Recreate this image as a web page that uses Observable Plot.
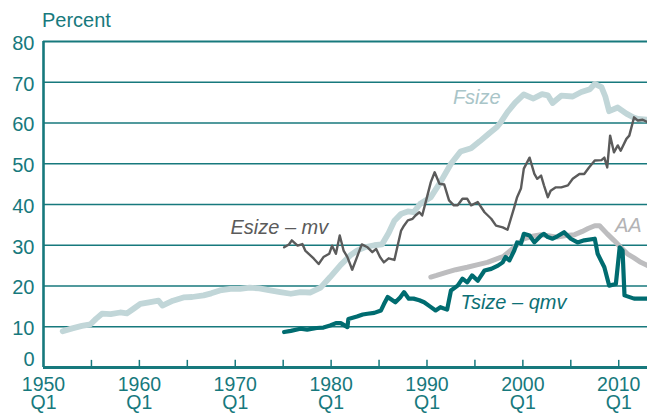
<!DOCTYPE html>
<html><head><meta charset="utf-8">
<script src="https://cdn.jsdelivr.net/npm/d3@7"></script>
<script src="https://cdn.jsdelivr.net/npm/@observablehq/plot@0.6"></script>
<style>
body{margin:0;background:#fff;}
#wrap{position:relative;width:647px;height:413px;font-family:"Liberation Sans",Arial,sans-serif;}
#unit{position:absolute;left:42px;top:10px;font-size:20px;line-height:20px;color:#17797d;}
#wrap svg{position:absolute;left:0;top:0;}
</style></head><body><div id="wrap"><div id="unit">Percent</div></div>
<script>
// ---- data ----
const fsizeYears = [1952.0,1953.0,1954.0,1954.9,1955.5,1956.1,1957.0,1958.0,1958.7,1959.5,1960.1,1961.0,1962.0,1962.4,1963.5,1964.6,1965.5,1966.7,1967.5,1968.4,1969.5,1970.5,1971.5,1972.5,1973.5,1974.7,1975.8,1976.8,1977.8,1978.9,1979.9,1981.0,1982.0,1982.7,1983.5,1984.5,1985.3,1986.0,1986.6,1987.3,1988.0,1988.6,1989.3,1990.4,1991.4,1992.5,1993.5,1994.6,1995.5,1996.5,1997.3,1997.7,1998.4,1999.2,2000.1,2001.1,2002.0,2002.6,2003.1,2004.0,2005.2,2006.1,2007.0,2007.5,2008.2,2008.6,2009.0,2009.9,2010.8,2011.5,2012.0,2013.0];
const fsizeValues = [8.9,9.6,10.2,10.6,12.0,13.2,13.1,13.5,13.3,14.6,15.6,16.0,16.4,15.2,16.4,17.2,17.3,17.7,18.2,18.9,19.3,19.3,19.6,19.4,19.0,18.5,18.1,18.5,18.4,19.6,22.2,25.2,27.5,28.7,29.5,30.0,30.2,33.0,36.0,37.7,38.3,38.1,40.2,41.8,45.5,50.0,53.0,53.8,55.5,57.5,59.0,60.2,62.7,65.0,67.0,66.0,67.1,66.8,64.9,66.7,66.5,67.6,68.3,69.6,68.8,66.5,62.9,63.8,62.3,61.4,61.0,60.8];

const esizeYears = [1975.1,1975.6,1975.9,1976.5,1977.0,1977.3,1978.2,1978.7,1979.2,1979.8,1980.1,1980.5,1980.9,1981.3,1981.7,1982.2,1982.7,1983.2,1983.8,1984.3,1984.7,1985.1,1985.5,1986.0,1986.6,1986.9,1987.3,1987.6,1988.0,1988.5,1988.8,1989.2,1989.5,1990.0,1990.4,1990.8,1991.3,1991.8,1992.3,1992.8,1993.2,1993.7,1994.2,1994.6,1995.3,1996.0,1996.7,1997.2,1997.9,1998.4,1999.1,1999.4,1999.8,2000.1,2000.7,2001.2,2001.5,2001.9,2002.2,2002.6,2002.9,2003.4,2004.0,2004.7,2005.2,2005.9,2006.4,2006.9,2007.5,2008.2,2008.5,2008.8,2009.1,2009.5,2009.9,2010.2,2010.8,2011.1,2011.6,2012.0,2012.5,2013.0];
const esizeValues = [29.5,30.2,31.2,29.9,30.3,28.7,26.7,25.4,27.1,27.9,29.9,27.9,32.4,28.7,27.1,24.0,27.1,30.2,29.5,28.3,29.1,27.1,25.8,26.8,26.4,29.5,33.6,34.8,36.1,36.5,37.3,38.1,37.3,41.8,45.5,47.9,45.1,44.9,41.0,39.8,39.8,41.4,41.4,39.8,40.6,38.1,36.5,34.8,34.4,33.8,39.3,41.8,43.9,48.8,51.5,47.5,46.3,47.1,44.7,41.8,43.4,44.2,44.2,44.7,46.3,47.5,47.5,49.1,50.8,50.9,51.5,49.1,56.9,52.8,54.5,53.2,56.1,56.9,61.4,60.6,60.8,60.2];

const aaYears = [1990.4,1991.0,1992.1,1993.0,1994.2,1995.2,1996.3,1997.2,1998.0,1998.6,1999.1,2000.1,2001.0,2001.9,2002.8,2003.6,2004.5,2005.4,2006.2,2006.8,2007.5,2008.0,2008.8,2009.5,2010.2,2010.9,2011.6,2012.3,2013.0];
const aaValues = [22.2,22.6,23.4,24.0,24.6,25.2,25.8,26.6,27.3,28.5,29.5,31.6,32.2,32.6,32.3,32.0,32.4,32.6,33.4,34.1,34.8,34.8,32.8,31.2,29.5,27.9,26.9,25.8,25.0];

const tsizeYears = [1975.1,1975.8,1976.8,1977.5,1978.5,1979.2,1979.9,1980.5,1981.0,1981.7,1981.8,1982.7,1983.3,1983.8,1984.5,1985.2,1985.5,1985.9,1986.7,1987.2,1987.6,1988.1,1988.6,1989.2,1989.7,1990.3,1990.9,1991.4,1992.1,1992.5,1993.2,1993.7,1994.2,1994.7,1995.3,1996.0,1996.7,1997.4,1997.9,1998.2,1998.6,1999.1,1999.4,1999.8,2000.1,2000.7,2001.2,2001.9,2002.2,2002.6,2003.1,2003.6,2004.3,2005.0,2005.7,2006.4,2007.5,2007.8,2008.5,2009.0,2009.7,2010.1,2010.4,2010.6,2011.6,2013.0];
const tsizeValues = [8.7,9.0,9.5,9.3,9.7,9.8,10.3,10.9,10.9,9.9,11.9,12.5,13.0,13.2,13.4,14.0,15.5,17.3,16.0,17.2,18.5,16.9,16.9,16.5,16.0,15.0,14.0,14.8,14.2,18.9,20.1,21.8,20.9,22.6,21.3,23.8,24.2,25.0,25.8,27.1,26.3,28.7,30.7,30.4,32.8,32.4,30.7,32.4,32.8,32.0,31.6,32.2,33.2,31.6,30.7,31.2,31.6,27.9,24.6,20.1,20.5,29.5,28.7,17.7,16.9,16.9];

const yTicks = [0,10,20,30,40,50,60,70,80];
const xTicks = [1950,1960,1970,1980,1990,2000,2010];
const quarterLabel = "Q1";
const minorTicks = [1955,1960,1965,1970,1975,1980,1985,1990,1995,2000,2005,2010];

const labelTexts = ["Fsize","Esize \u2013 mv","AA","Tsize \u2013 qmv"];
const labelYears = [1992.7,1969.5,2009.6,1993.5];
const labelValues = [66.3,34.4,34.8,16.0];

// ---- styles ----
const teal = "#17797d";
const colors = {Fsize:"#c1d6d8", Esize:"#5b5b5b", AA:"#bdbdbf", Tsize:"#006c70"};
const labelColors = ["#a9c5c8","#5b5b5b","#b3b3b5","#0d7075"];

const zip = (xs, ys) => xs.map((x,i)=>({x, y: ys[i]}));
const labels = labelTexts.map((t,i)=>({t, x: labelYears[i], y: labelValues[i], c: labelColors[i]}));

const font = "'Liberation Sans', Arial, sans-serif";
const chart = Plot.plot({
  width: 647, height: 413,
  marginLeft: 43, marginRight: 0, marginTop: 41, marginBottom: 46,
  x: {domain: [1950, 2013]},
  y: {domain: [0, 80]},
  style: {fontFamily: font, fontSize: "20px", color: teal, background: "transparent", overflow: "visible"},
  marks: [
    Plot.ruleY(yTicks.filter(d => d > 0 && d < 80), {stroke: teal, strokeWidth: 1.4}),
    Plot.ruleY([80], {stroke: teal, strokeWidth: 1.8}),
    Plot.axisY(yTicks.filter(d => d > 0), {tickSize: 0, tickPadding: 9, dy: 2, label: null, fontSize: 20}),
    Plot.axisY([0], {tickSize: 0, tickPadding: 9, dy: -8, label: null, fontSize: 20}),
    Plot.axisX(xTicks, {tickSize: 0, tickPadding: 10, tickFormat: d => `${d}`, label: null, fontSize: 19.5}),
    Plot.axisX(xTicks, {tickSize: 0, tickPadding: 28, tickFormat: () => quarterLabel, label: null, fontSize: 19.5}),
    Plot.ruleX(minorTicks, {y1: 0, y2: 1.75, stroke: teal, strokeWidth: 1.5}),
    Plot.line(zip(fsizeYears, fsizeValues), {x: "x", y: "y", stroke: colors.Fsize, strokeWidth: 5.8, strokeLinejoin: "round", strokeLinecap: "round"}),
    Plot.line(zip(aaYears, aaValues), {x: "x", y: "y", stroke: colors.AA, strokeWidth: 5, strokeLinejoin: "round", strokeLinecap: "round"}),
    Plot.line(zip(esizeYears, esizeValues), {x: "x", y: "y", stroke: colors.Esize, strokeWidth: 2.4, strokeLinejoin: "round"}),
    Plot.line(zip(tsizeYears, tsizeValues), {x: "x", y: "y", stroke: colors.Tsize, strokeWidth: 4.2, strokeLinejoin: "round"}),
    Plot.ruleX([1950], {stroke: teal, strokeWidth: 2.6}),
    Plot.ruleY([0], {stroke: teal, strokeWidth: 2.8}),
    Plot.text(labels, {x: "x", y: "y", text: "t", fill: "c", textAnchor: "start", fontSize: 20, fontStyle: "italic", fontFamily: font})
  ]
});
document.getElementById("wrap").appendChild(chart);
</script>
</body></html>
